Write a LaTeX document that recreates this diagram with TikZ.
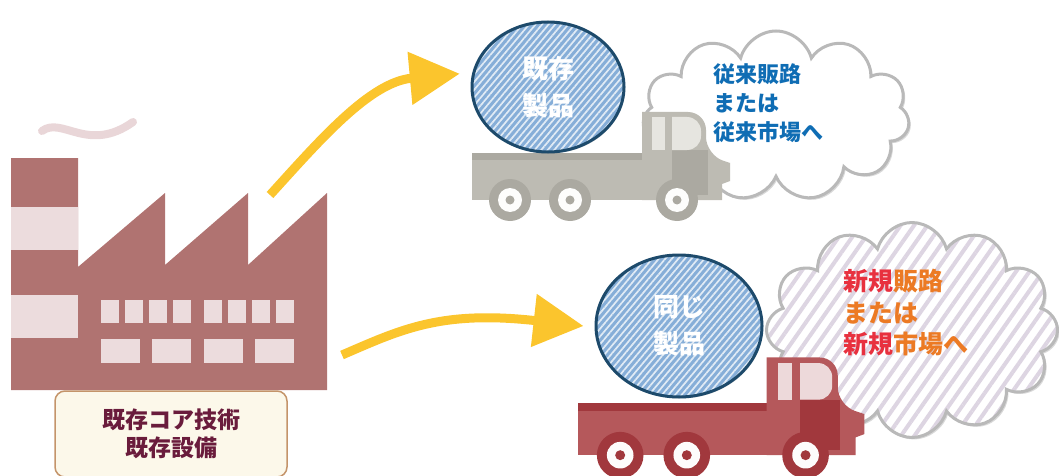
\documentclass[tikz,border=0pt]{standalone}
\usepackage{fontspec}
\newfontfamily\jpfont{Noto Sans CJK JP}
\usepackage{tikz}
\usetikzlibrary{arrows.meta,shapes.geometric,shapes.symbols,patterns.meta,shadows}

\definecolor{plant}{HTML}{B07371}
\definecolor{plantlight}{HTML}{ECDCDD}
\definecolor{smoke}{HTML}{E9D6D8}
\definecolor{flowyellow}{HTML}{FBC52D}
\definecolor{prodblue}{HTML}{86AED8}
\definecolor{prodedge}{HTML}{1D4A6B}
\definecolor{oldtext}{HTML}{0F6DB4}
\definecolor{coretext}{HTML}{6A1C3C}
\definecolor{coreedge}{HTML}{C4946A}
\definecolor{corefill}{HTML}{FCF8EA}
\definecolor{graybody}{HTML}{BDBBB3}
\definecolor{graydark}{HTML}{ABA9A1}
\definecolor{graywin}{HTML}{E6E5E0}
\definecolor{redbody}{HTML}{B5585B}
\definecolor{reddark}{HTML}{A1383D}
\definecolor{redwin}{HTML}{EDD9DA}
\definecolor{newred}{HTML}{E8313F}
\definecolor{neworange}{HTML}{EC7A24}
\definecolor{stripe}{HTML}{DDD5E2}

\begin{document}
\begin{tikzpicture}[x=1pt, y=-1pt,
  flow/.style={line width=9pt, draw=flowyellow,
    -{Triangle[length=50pt, width=51pt, fill=flowyellow]}},
  product/.style={ellipse, draw=prodedge, line width=3pt, inner sep=0pt,
    drop shadow={shadow xshift=1pt, shadow yshift=-1.5pt, opacity=.35},
    preaction={fill=prodblue},
    pattern={Lines[angle=50, distance=5pt, line width=1.7pt]}, pattern color=white!75!prodblue,
    font=\jpfont\bfseries\fontsize{26}{37}\selectfont, text=white, align=center},
  market/.style={cloud, cloud ignores aspect, inner sep=0pt, draw=gray!55, line width=3pt,
    drop shadow={shadow xshift=2pt, shadow yshift=-2pt, opacity=.3}},
  blurb/.style={anchor=west, align=left, inner sep=0pt},
  core/.style={draw=coreedge, line width=1.5pt, fill=corefill, rounded corners=10pt,
    minimum width=232pt, minimum height=86pt, align=center, text=coretext,
    font=\jpfont\bfseries\fontsize{23}{28}\selectfont},
  pics/truck/.style n args={3}{code={
    \fill[#1] (0,0) rectangle (170,47);
    \fill[#2] (0,0) rectangle (170,7);
    \fill[#1] (170,40) -- (170,-41) [rounded corners=18pt] -- (234,-41) -- (234,2)
      [sharp corners] -- (246,6) -- (258,10) -- (258,28) -- (250,31) -- (250,47) -- (170,47) -- cycle;
    \fill[#2] (200,-3) rectangle (236,42);
    \fill[#3] (180,-36) rectangle (193,-3);
    \fill[#3] (200,-3) -- (200,-36) [rounded corners=14pt] -- (229,-36) -- (229,-3) [sharp corners] -- cycle;
    \foreach \wx in {38,98,205} {
      \fill[#2] (\wx,47) circle (21);
      \fill[white!92!#3] (\wx,47) circle (12);
      \fill[#2] (\wx,47) circle (4.5);
    }
  }},
]
\useasboundingbox (0,0) rectangle (1059,476);

% factory
\draw[smoke, line width=8pt, line cap=round] (42,131) .. controls (62,116) and (88,154) .. (133,122);
\fill[plant] (11,158) -- (78,158) -- (78,267) -- (165,193) -- (165,265) -- (248,193) -- (248,265)
  -- (327,193) -- (327,390) -- (11,390) -- cycle;
\fill[plantlight] (11,207) rectangle (78,250);
\fill[plantlight] (11,295) rectangle (78,338);
\foreach \x in {101,125,149,173,204,228,252,276}
  \fill[plantlight] (\x,300) rectangle ++(18,23);
\foreach \x in {101,152,204,255}
  \fill[plantlight] (\x,339) rectangle ++(39,24);
\node[core] (tech) at (171,434) {既存コア技術\\既存設備};

% markets
\node[market, fill=white, cloud puffs=11, minimum width=267pt, minimum height=170pt] (oldmkt) at (776,116) {};
\node[market, preaction={fill=white}, pattern={Lines[angle=55, distance=11pt, line width=4pt]},
  pattern color=stripe, cloud puffs=12, minimum width=291pt, minimum height=215pt] (newmkt) at (912,330) {};
\node[blurb, text=oldtext, font=\jpfont\bfseries\fontsize{22}{29}\selectfont] (oldtxt) at (713,103)
  {従来販路\\または\\従来市場へ};
\node[blurb, text=neworange, font=\jpfont\bfseries\fontsize{25}{31.5}\selectfont] (newtxt) at (843,313)
  {\textcolor{newred}{新規}販路\\または\\\textcolor{newred}{新規}市場へ};

% trucks and products
\pic at (472,153) {truck={graybody}{graydark}{graywin}};
\pic[scale=1.11] at (578,403) {truck={redbody}{reddark}{redwin}};
\node[product, minimum width=152pt, minimum height=130pt] (kizon) at (548,87) {既存\\製品};
\node[product, minimum width=166pt, minimum height=142pt] (onaji) at (679,326) {同じ\\製品};

% flows
\coordinate (roof) at (270,195);
\coordinate (wall) at (342,355);
\draw[flow] (roof) .. controls (320,140) and (370,82) .. ([xshift=-13pt]kizon.170);
\draw[flow] (wall) .. controls (400,330) and (440,310) .. ([xshift=-11pt]onaji.west);
\end{tikzpicture}
\end{document}
